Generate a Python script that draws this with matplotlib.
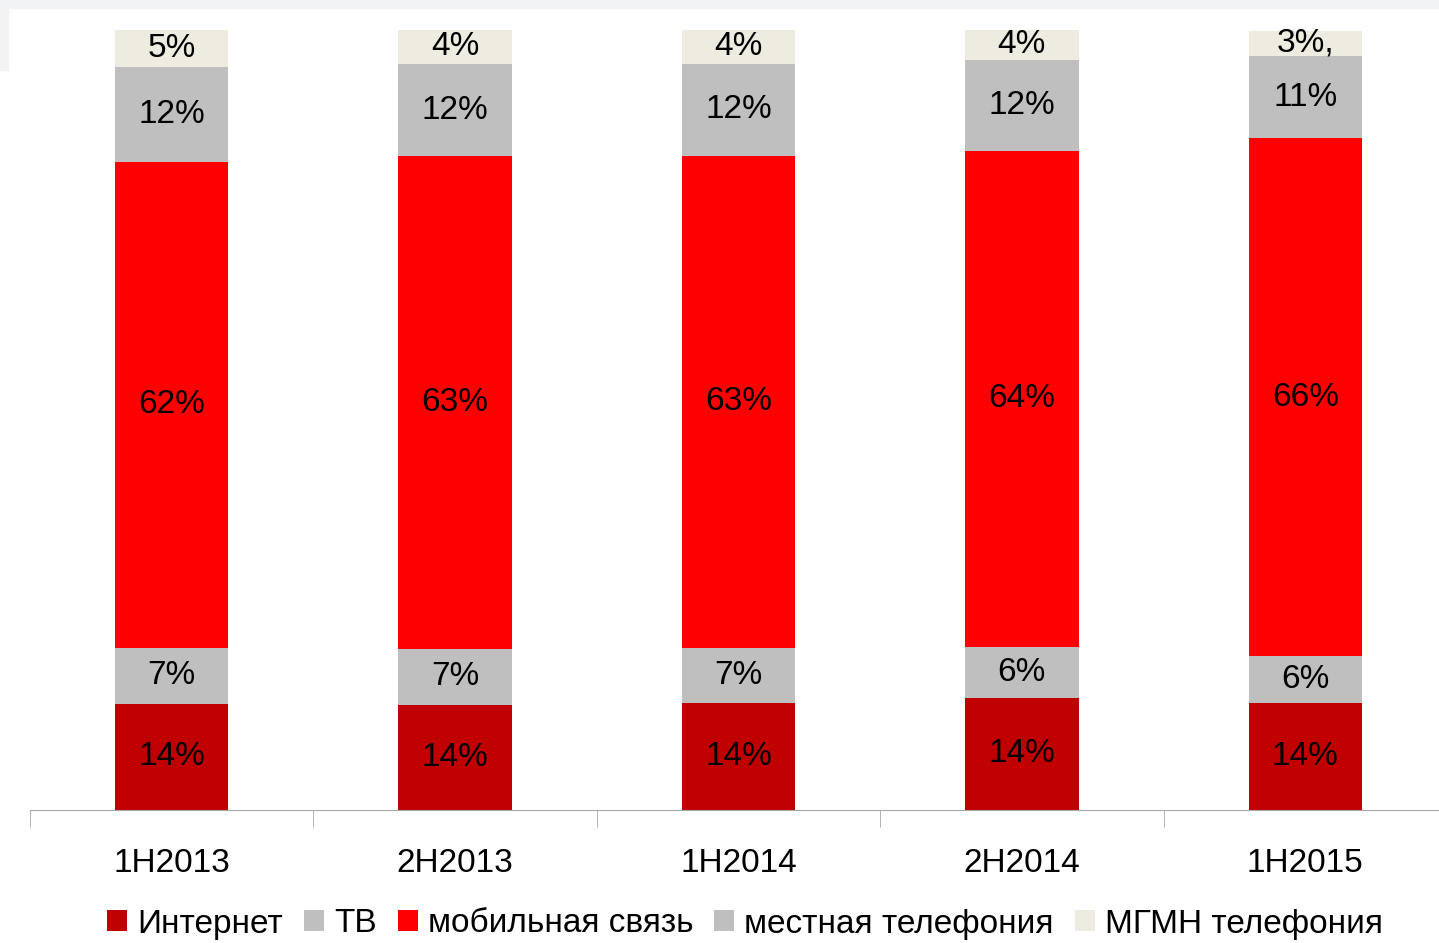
import numpy as np
import matplotlib.pyplot as plt
from matplotlib import font_manager
from matplotlib.patches import Patch, Rectangle

names = {f.name for f in font_manager.fontManager.ttflist}
fam = 'Liberation Sans Narrow' if 'Liberation Sans Narrow' in names else 'Liberation Sans'
plt.rcParams['font.family'] = [fam, 'DejaVu Sans']

periods = ['1H2013', '2H2013', '1H2014', '2H2014', '1H2015']
series = ['Интернет', 'ТВ', 'мобильная связь', 'местная телефония', 'МГМН телефония']

internet = [13.6, 13.5, 13.7, 14.4, 13.7]
tv = [7.2, 7.2, 7.1, 6.5, 6.0]
mobile = [62.3, 63.1, 63.1, 63.6, 66.4]
local = [12.2, 11.8, 11.8, 11.7, 10.6]
mgmn = [4.7, 4.5, 4.4, 3.8, 3.2]

lab_internet = ['14%', '14%', '14%', '14%', '14%']
lab_tv = ['7%', '7%', '7%', '6%', '6%']
lab_mobile = ['62%', '63%', '63%', '64%', '66%']
lab_local = ['12%', '12%', '12%', '12%', '11%']
lab_mgmn = ['5%', '4%', '4%', '4%', '3%,']

colors = ['#C00000', '#BFBFBF', '#FF0000', '#BFBFBF', '#EEECE1']

fig = plt.figure(figsize=(14.39, 9.43), dpi=100)
# light frame of the screenshot
fig.patches.append(Rectangle((0, 1 - 8/943), 1, 8/943, transform=fig.transFigure,
                             color='#F2F3F5', zorder=0))
fig.patches.append(Rectangle((0, 1 - 70/943), 8/1439, 70/943, transform=fig.transFigure,
                             color='#F2F3F5', zorder=0))
ax = fig.add_axes([30/1439, 133/943, 1417/1439, 780/943])

x = np.arange(len(periods))
data = [internet, tv, mobile, local, mgmn]
labels = [lab_internet, lab_tv, lab_mobile, lab_local, lab_mgmn]
bottom = np.zeros(len(periods))
handles = []
for vals, labs, col, name in zip(data, labels, colors, series):
    vals = np.array(vals)
    ax.bar(x, vals, 0.4, bottom=bottom, color=col)
    for xi, b, v, t in zip(x, bottom, vals, labs):
        ax.text(xi, b + v / 2, t, ha='center', va='center', fontsize=24, color='black')
    bottom += vals
    handles.append(Patch(facecolor=col, label=name))

ax.set_xlim(-0.5, 4.5)
ax.set_ylim(0, 100)
for s in ['top', 'right', 'left']:
    ax.spines[s].set_visible(False)
ax.spines['bottom'].set_color('#A6A6A6')
ax.set_yticks([])
ax.set_xticks(x)
ax.set_xticklabels(periods, fontsize=24)
ax.tick_params(axis='x', length=0, pad=27)
ax.set_xticks(np.arange(-0.5, 5, 1), minor=True)
ax.tick_params(axis='x', which='minor', length=12, color='#A6A6A6')

fig.legend(handles=handles, loc='center', bbox_to_anchor=(745/1439, 1 - 924/943),
           ncol=5, frameon=False, fontsize=24, handlelength=0.6, handleheight=0.6,
           handletextpad=0.3, columnspacing=0.63, borderaxespad=0)

fig.savefig('out.png', dpi=100)
